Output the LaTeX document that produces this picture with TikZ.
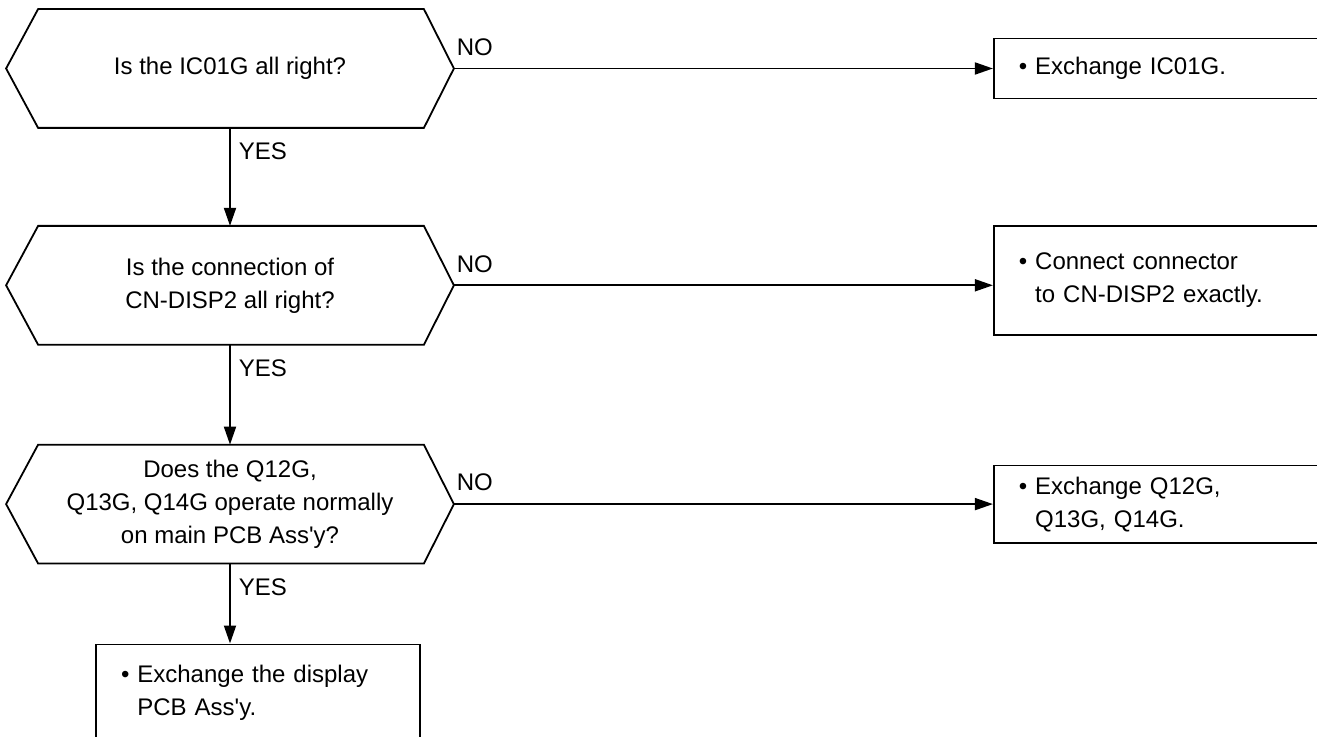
\documentclass[tikz,border=0pt]{standalone}
\usepackage{fontspec}
\setmainfont{Liberation Sans}
\usetikzlibrary{positioning, arrows.meta}

\newcommand{\bul}{\textbullet\ }
\newcommand{\bulgap}{\phantom{\textbullet\ }}

\begin{document}
\begin{tikzpicture}[
    >={Triangle[length=9pt, width=6pt]},
    font={\fontsize{12}{16.5}\selectfont},
    line width=0.9pt,
    hexbox/.style={rectangle, minimum width=223pt, minimum height=58.5pt, align=center, inner sep=0pt},
    fixbox/.style={rectangle, draw, minimum width=162pt, text width=137pt, align=left, inner xsep=12.5pt},
    arrow/.style={->},
    nolabel/.style={above right=6pt and 1pt, inner sep=0pt},
    yeslabel/.style={below right=7pt and 4pt, inner sep=0pt}
]
\useasboundingbox (0,0) rectangle (658.5pt,-368.5pt);

% Checks
\node[hexbox] (q1) at (115pt,-34.25pt) {Is the IC01G all right?};
\node[hexbox, below=49pt of q1] (q2) {Is the connection of\\CN-DISP2 all right?};
\node[hexbox, below=50pt of q2] (q3) {Does the Q12G,\\Q13G, Q14G operate normally\\on main PCB Ass\textquotesingle y?};

% Hexagon outlines
\foreach \q in {q1,q2,q3}
  \draw ([xshift=16pt]\q.north west) -- ([xshift=-15pt]\q.north east) -- (\q.east)
    -- ([xshift=-15pt]\q.south east) -- ([xshift=16pt]\q.south west) -- (\q.west) -- cycle;

% Fixes
\node[fixbox, minimum height=30pt, right=269.5pt of q1] (fix1) {\bul Exchange IC01G.};
\node[fixbox, minimum height=54.5pt, right=269.5pt of q2, yshift=2.5pt] (fix2) {\bul Connect connector\\\bulgap to CN-DISP2 exactly.};
\node[fixbox, minimum height=38.5pt, right=269.5pt of q3] (fix3) {\bul Exchange Q12G,\\\bulgap Q13G, Q14G.};
\node[fixbox, minimum height=48pt, below=40pt of q3, xshift=14pt] (fix4) {\bul Exchange the display\\\bulgap PCB Ass\textquotesingle y.};

% Arrows
\draw[arrow] (q1) -- node[pos=0, yeslabel] {YES} (q2);
\draw[arrow] (q2) -- node[pos=0, yeslabel] {YES} (q3);
\draw[arrow] (q3.south) -- node[pos=0, yeslabel] {YES} (q3.south |- fix4.north);
\draw[arrow] (q1) -- node[pos=0, nolabel] {NO} (fix1);
\draw[arrow] (q2.east) -- node[pos=0, nolabel] {NO} (q2.east -| fix2.west);
\draw[arrow] (q3) -- node[pos=0, nolabel] {NO} (fix3);

\end{tikzpicture}
\end{document}
